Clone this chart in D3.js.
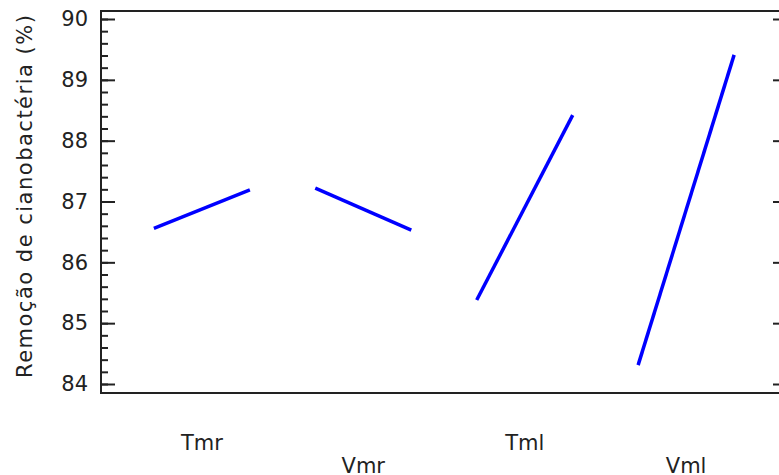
<!DOCTYPE html>
<html>
  <head>
    <meta charset="utf-8">
    <script src="https://cdn.jsdelivr.net/npm/d3@7"></script>
    <style>
      body, html {
        margin: 0;
        padding: 0;
        background: #fff;
        overflow: hidden;
      }
      svg { display: block; }
      text { font-family: "DejaVu Sans", sans-serif; fill: #222; }
    </style>
  </head>
  <body>
    <div id="chart"></div>
    <script>
    // factors on the x axis, each with low and high level mean
    var factors = ["Tmr", "Vmr", "Tml", "Vml"];
    var lowMeans = [86.56, 87.22, 85.38, 84.31];
    var highMeans = [87.19, 86.53, 88.42, 89.41];
    var levels = ["low", "high"];
    var yTicks = [84, 85, 86, 87, 88, 89, 90];
    var yTitle = "Remoção de cianobactéria (%)";

    var W = 779, H = 475;
    var mLeft = 101, mRight = 787, mTop = 11, mBottom = 393;

    var svg = d3.select("#chart").append("svg")
      .attr("width", W).attr("height", H);

    var x = d3.scalePoint().domain(factors).range([mLeft, mRight]).padding(0.625);
    var lvl = d3.scalePoint().domain(levels).range([-48, 48]);
    var y = d3.scaleLinear().domain([84, 90]).range([384, 19]);

    // frame
    svg.append("rect")
      .attr("x", mLeft).attr("y", mTop)
      .attr("width", mRight - mLeft).attr("height", mBottom - mTop)
      .attr("fill", "none").attr("stroke", "#222").attr("stroke-width", 2);

    // minor ticks every 0.2
    var minor = d3.range(84, 90.001, 0.2).map(function(v) { return +v.toFixed(1); });
    svg.append("g")
      .attr("transform", "translate(" + mLeft + ",0)")
      .call(d3.axisLeft(y).tickValues(minor).tickSize(-7).tickFormat(""))
      .call(function(g) {
        g.select(".domain").remove();
        g.selectAll("line").attr("stroke", "#222").attr("stroke-width", 2);
      });

    // major ticks + labels
    svg.append("g")
      .attr("transform", "translate(" + mLeft + ",0)")
      .call(d3.axisLeft(y).tickValues(yTicks).tickSize(-14).tickPadding(13).tickFormat(d3.format("d")))
      .call(function(g) {
        g.select(".domain").remove();
        g.selectAll("line").attr("stroke", "#222").attr("stroke-width", 2);
        g.selectAll("text").attr("font-size", 21).attr("font-family", "DejaVu Sans").attr("fill", "#222");
      });

    // right axis ticks
    svg.append("g")
      .attr("transform", "translate(" + mRight + ",0)")
      .call(d3.axisRight(y).tickValues(yTicks).tickSize(-14).tickFormat(""))
      .call(function(g) {
        g.select(".domain").remove();
        g.selectAll("line").attr("stroke", "#222").attr("stroke-width", 2);
      });

    // factor labels, staggered
    svg.append("g").selectAll("text")
      .data(factors)
      .join("text")
      .attr("x", function(d) { return x(d); })
      .attr("y", function(d, i) { return i % 2 === 0 ? 450 : 473; })
      .attr("text-anchor", "middle")
      .attr("font-size", 21)
      .text(function(d) { return d; });

    // main effect lines
    var lineData = factors.map(function(f, i) {
      return [
        {f: f, level: "low", v: lowMeans[i]},
        {f: f, level: "high", v: highMeans[i]}
      ];
    });
    var line = d3.line()
      .x(function(d) { return x(d.f) + lvl(d.level); })
      .y(function(d) { return y(d.v); });

    svg.append("g").selectAll("path")
      .data(lineData)
      .join("path")
      .attr("d", line)
      .attr("fill", "none")
      .attr("stroke", "#0000ff")
      .attr("stroke-width", 3.5);

    // y title
    svg.append("text")
      .attr("transform", "translate(32,378) rotate(-90)")
      .attr("text-anchor", "start")
      .attr("font-size", 21)
      .attr("letter-spacing", 1.5)
      .text(yTitle);
    </script>
  </body>
</html>
